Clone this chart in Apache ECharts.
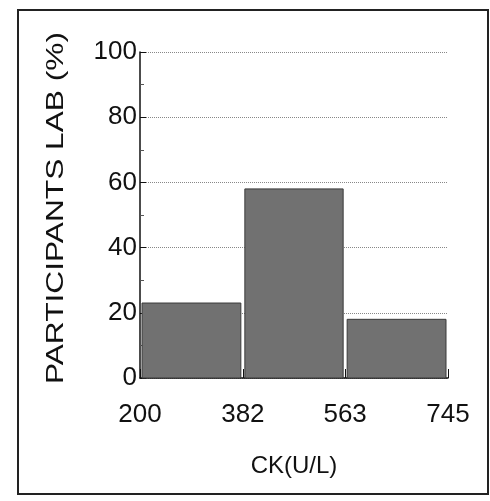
<!DOCTYPE html>
<html>
<head>
<meta charset="utf-8">
<script src="https://cdn.jsdelivr.net/npm/echarts@6/dist/echarts.min.js"></script>
<style>
  html, body { margin: 0; padding: 0; background: #fff; }
  #chart { width: 490px; height: 501px; }
</style>
</head>
<body>
<div id="chart"></div>
<script>
// histogram bins (CK, U/L) and share of participant labs (%)
const binEdges = [200, 382, 563, 745];
const participants = [23, 58, 18];

const bars = participants.map((v, i) => [binEdges[i], binEdges[i + 1], v]);

const chart = echarts.init(document.getElementById("chart"));
const font = "Liberation Sans, Arial, sans-serif";

const option = {
  backgroundColor: "#fff",
  animation: false,
  graphic: [
    {
      // outer frame of the figure
      type: "rect",
      shape: { x: 18, y: 10, width: 470, height: 484 },
      style: { fill: "none", stroke: "#222", lineWidth: 2 },
      z: 0,
    },
    {
      // y axis title, stretched along its length like the scan
      type: "text",
      x: 56,
      y: 208,
      rotation: Math.PI / 2,
      scaleX: 1.32,
      style: {
        text: "PARTICIPANTS LAB (%)",
        font: "24px " + font,
        fill: "#111",
        textAlign: "center",
        textVerticalAlign: "middle",
      },
    },
  ],
  grid: { left: 140, right: 42, top: 52, bottom: 123 },
  xAxis: {
    type: "value",
    min: 200,
    max: 745,
    offset: 9,
    name: "CK(U/L)",
    nameLocation: "middle",
    nameGap: 67,
    nameTextStyle: { fontSize: 24, color: "#111", fontFamily: font },
    axisLine: { show: true, lineStyle: { color: "#111", width: 1.5 } },
    axisTick: { show: true, inside: true, length: 9, customValues: binEdges, lineStyle: { color: "#111" } },
    axisLabel: { customValues: binEdges, fontSize: 26, color: "#111", fontFamily: font, margin: 15 },
    splitLine: { show: false },
  },
  yAxis: {
    type: "value",
    min: 0,
    max: 100,
    interval: 20,
    axisLine: { show: true, lineStyle: { color: "#111", width: 1.5 } },
    axisTick: { show: true, inside: true, length: 6, lineStyle: { color: "#111" } },
    minorTick: { show: true, splitNumber: 2, length: 4, lineStyle: { color: "#555" } },
    axisLabel: { fontSize: 26, color: "#111", fontFamily: font, margin: 3 },
    splitLine: { show: true, lineStyle: { color: "#888", type: "dotted", width: 1 } },
  },
  series: [
    {
      type: "custom",
      data: bars,
      encode: { x: [0, 1], y: 2 },
      renderItem: function (params, api) {
        const p0 = api.coord([api.value(0), api.value(2)]);
        const p1 = api.coord([api.value(1), 0]);
        const gap = 2;
        return {
          type: "rect",
          shape: { x: p0[0] + gap, y: p0[1], width: p1[0] - p0[0] - gap * 2, height: p1[1] - p0[1] },
          style: { fill: "#717171", stroke: "#3a3a3a", lineWidth: 1 },
        };
      },
      z: 3,
    },
  ],
};

chart.setOption(option);
</script>
</body>
</html>
